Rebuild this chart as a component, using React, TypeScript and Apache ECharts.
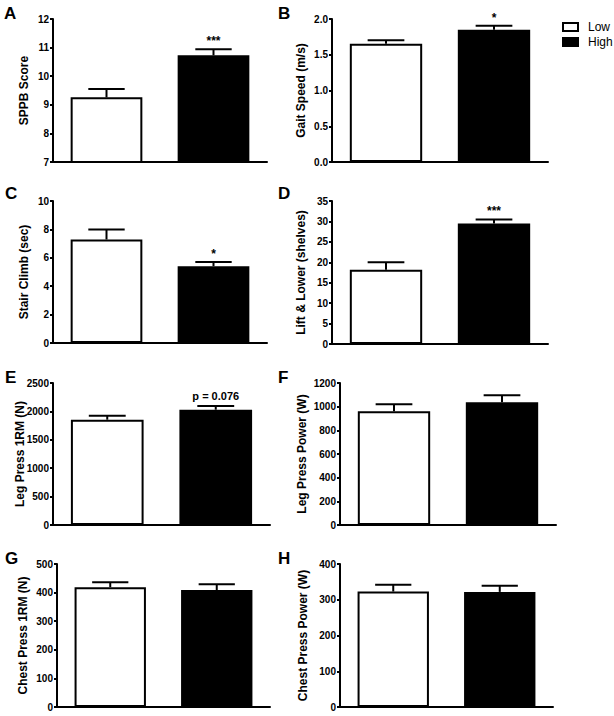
import React, { useEffect, useRef } from "react";
import * as echarts from "echarts";

const groups = ["Low", "High"];
const panelLetters = ["A", "B", "C", "D", "E", "F", "G", "H"];
const yAxisNames = [
  "SPPB Score",
  "Gait Speed (m/s)",
  "Stair Climb (sec)",
  "Lift & Lower (shelves)",
  "Leg Press 1RM (N)",
  "Leg Press Power (W)",
  "Chest Press 1RM (N)",
  "Chest Press Power (W)",
];
const lowMeans = [9.26, 1.655, 7.29, 18.2, 1854, 962, 419, 323];
const lowErrors = [0.29, 0.048, 0.7, 1.8, 70, 59, 17, 19];
const highMeans = [10.73, 1.85, 5.41, 29.5, 2030, 1038, 409, 322];
const highErrors = [0.21, 0.056, 0.3, 1.0, 65, 59, 20, 17];
const axisMin = [7, 0, 0, 0, 0, 0, 0, 0];
const axisMax = [12, 2, 10, 35, 2500, 1200, 500, 400];
const axisStep = [1, 0.5, 2, 5, 500, 200, 100, 100];
const lowNotes = ["", "", "", "", "", "", "", ""];
const highNotes = ["***", "*", "*", "***", "p = 0.076", "", "", ""];

// layout (pixels)
const gridRects = [
  { left: 53, top: 19, width: 214, height: 143 },
  { left: 332, top: 19, width: 216, height: 143 },
  { left: 53, top: 201, width: 214, height: 142 },
  { left: 332, top: 201, width: 216, height: 143 },
  { left: 53, top: 383, width: 217, height: 142 },
  { left: 340, top: 383, width: 216, height: 142 },
  { left: 57, top: 564, width: 213, height: 143 },
  { left: 340, top: 564, width: 213, height: 143 },
];
const nameGaps = [23, 25, 23, 25, 27, 32, 28, 31];
const letterPos = [
  [4, 5], [278, 5], [5, 185], [278, 185], [5, 369], [278, 369], [5, 550], [278, 550],
];

const FONT = "'Liberation Sans', Arial, Helvetica, sans-serif";

export default function App() {
  const ref = useRef<HTMLDivElement>(null);

  useEffect(() => {
    document.body.style.margin = "0";
    if (!ref.current) return;
    const chart = echarts.init(ref.current, null, { renderer: "svg" });

    const grid: any[] = [];
    const xAxis: any[] = [];
    const yAxis: any[] = [];
    const series: any[] = [];

    panelLetters.forEach((_, i) => {
      grid.push({ ...gridRects[i], containLabel: false });
      xAxis.push({
        type: "category",
        gridIndex: i,
        data: groups,
        axisLine: { onZero: false, lineStyle: { color: "#000", width: 2 } },
        axisTick: { show: false },
        axisLabel: { show: false },
        splitLine: { show: false },
      });
      yAxis.push({
        type: "value",
        gridIndex: i,
        min: axisMin[i],
        max: axisMax[i],
        interval: axisStep[i],
        name: yAxisNames[i],
        nameLocation: "middle",
        nameGap: nameGaps[i],
        nameMoveOverlap: false,
        nameTextStyle: {
          color: "#000",
          fontSize: 12,
          fontWeight: "bold",
          fontFamily: FONT,
        },
        axisLine: { show: true, lineStyle: { color: "#000", width: 2 } },
        axisTick: { show: true, length: 3, lineStyle: { color: "#000", width: 2 } },
        axisLabel: {
          color: "#000",
          fontSize: 10,
          fontWeight: "bold",
          fontFamily: FONT,
          margin: 4,
          formatter: (v: number) =>
            axisStep[i] < 1 ? v.toFixed(1) : String(v),
        },
        splitLine: { show: false },
      });
      series.push({
        type: "bar",
        name: groups[0],
        xAxisIndex: i,
        yAxisIndex: i,
        data: [lowMeans[i], "-"],
        barWidth: "67%",
        barGap: "-100%",
        clip: true,
        itemStyle: { color: "#fff", borderColor: "#000", borderWidth: 2 },
      });
      series.push({
        type: "bar",
        name: groups[1],
        xAxisIndex: i,
        yAxisIndex: i,
        data: ["-", highMeans[i]],
        barWidth: "67%",
        barGap: "-100%",
        clip: true,
        itemStyle: { color: "#000", borderColor: "#000", borderWidth: 2 },
      });
      const notes = [lowNotes[i], highNotes[i]];
      series.push({
        type: "custom",
        xAxisIndex: i,
        yAxisIndex: i,
        data: [
          [0, lowMeans[i], lowErrors[i]],
          [1, highMeans[i], highErrors[i]],
        ],
        renderItem: (params: any, api: any) => {
          const cat = api.value(0);
          const mean = api.value(1);
          const err = api.value(2);
          const base = api.coord([cat, mean]);
          const top = api.coord([cat, mean + err]);
          const half = api.size([1, 0])[0] * 0.17;
          const children: any[] = [
            {
              type: "line",
              shape: { x1: base[0], y1: base[1], x2: top[0], y2: top[1] },
              style: { stroke: "#000", lineWidth: 2 },
            },
            {
              type: "line",
              shape: { x1: top[0] - half, y1: top[1], x2: top[0] + half, y2: top[1] },
              style: { stroke: "#000", lineWidth: 2 },
            },
          ];
          const note = notes[params.dataIndex];
          if (note) {
            const isStar = note.indexOf("*") === 0;
            children.push({
              type: "text",
              x: top[0],
              y: top[1] - (isStar ? 2 : 5),
              style: {
                text: note,
                align: "center",
                verticalAlign: "bottom",
                fill: "#000",
                fontSize: isStar ? 12 : 11,
                fontWeight: "bold",
                fontFamily: FONT,
              },
            });
          }
          return { type: "group", children };
        },
        z: 5,
      });
    });

    const graphic = panelLetters.map((letter, i) => ({
      type: "text",
      left: letterPos[i][0],
      top: letterPos[i][1],
      style: {
        text: letter,
        fill: "#000",
        fontSize: 17,
        fontWeight: "bold",
        fontFamily: FONT,
      },
    }));

    chart.setOption({
      animation: false,
      backgroundColor: "#fff",
      grid,
      xAxis,
      yAxis,
      series,
      graphic,
      legend: {
        data: groups,
        orient: "vertical",
        left: 562,
        top: 21,
        padding: 0,
        itemWidth: 15,
        itemHeight: 8,
        itemGap: 3,
        icon: "rect",
        selectedMode: false,
        textStyle: { color: "#000", fontSize: 12, fontFamily: FONT, padding: [0, 0, 0, 5] },
      },
    });

    return () => chart.dispose();
  }, []);

  return <div ref={ref} style={{ width: 614, height: 716 }} />;
}
